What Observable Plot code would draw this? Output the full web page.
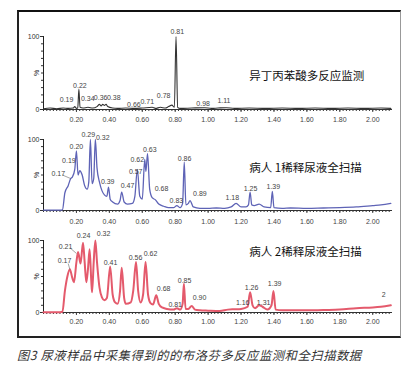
<!DOCTYPE html>
<html><head><meta charset="utf-8">
<script src="https://cdn.jsdelivr.net/npm/d3@7"></script>
<script src="https://cdn.jsdelivr.net/npm/@observablehq/plot@0.6"></script>
<style>
body{margin:0;background:#fff;width:418px;height:374px;position:relative;overflow:hidden;font-family:"Liberation Sans",Arial,sans-serif}
#frame{position:absolute;left:17px;top:10px;width:381px;height:324px;border-top:2px solid #111;border-left:2px solid #222;border-bottom:2px solid #222;border-right:1px solid #999}
.panel{position:absolute;left:0}
#caption{position:absolute;left:17px;top:346px;font:italic 12.3px "Noto Sans CJK SC";letter-spacing:0.55px;color:#333;white-space:nowrap}
</style></head><body>
<div id="frame"></div>
<div id="p1" class="panel" style="top:12px"></div>
<div id="p2" class="panel" style="top:125px"></div>
<div id="p3" class="panel" style="top:225px"></div>
<div id="caption">图3 尿液样品中采集得到的的布洛芬多反应监测和全扫描数据</div>
<script>
// ---- data ----
const xTicks = [0.20, 0.40, 0.60, 0.80, 1.00, 1.20, 1.40, 1.60, 1.80, 2.00];
const yTicks = [0, 100];
const yUnit = "%";
const titles = ["异丁丙苯酸多反应监测", "病人 1稀释尿液全扫描", "病人 2稀释尿液全扫描"];

// retention time (min), relative abundance (%)
const mrmTrace = [[0,1],[0.04,2],[0.08,1],[0.12,2],[0.15,1.5],[0.18,2],[0.19,4],[0.20,1.5],[0.208,2],[0.215,28],[0.222,3],[0.24,2],[0.27,3],[0.30,2],[0.325,4],[0.34,7],[0.35,5],[0.36,7],[0.37,5.5],[0.38,7],[0.39,4],[0.42,2],[0.45,1.5],[0.50,2],[0.55,1.5],[0.60,2],[0.66,3],[0.68,1.5],[0.71,3],[0.74,2],[0.76,4],[0.78,6],[0.795,3],[0.805,100],[0.815,3],[0.83,1.5],[0.90,2],[0.98,2.5],[1.02,1.5],[1.06,2],[1.11,2.5],[1.16,1.5],[1.25,2],[1.35,1.5],[1.45,2],[1.55,1.5],[1.65,2],[1.75,1.5],[1.85,2],[1.95,1.5],[2.05,2],[2.11,1.5]];
const scan1Trace = [[0,0.5],[0.10,0.5],[0.115,1],[0.13,25],[0.15,35],[0.165,45],[0.175,47],[0.19,58],[0.20,84],[0.21,50],[0.22,56],[0.235,50],[0.25,35],[0.265,30],[0.275,40],[0.285,100],[0.295,38],[0.305,45],[0.315,100],[0.325,60],[0.34,40],[0.355,28],[0.37,22],[0.385,20],[0.395,33],[0.405,16],[0.42,12],[0.45,9],[0.465,14],[0.475,26],[0.49,12],[0.51,9],[0.54,10],[0.555,20],[0.57,58],[0.585,20],[0.60,16],[0.615,72],[0.622,55],[0.632,80],[0.645,30],[0.66,18],[0.68,15],[0.70,9],[0.73,6],[0.76,4],[0.79,4],[0.81,7],[0.83,4],[0.845,10],[0.855,68],[0.865,8],[0.88,10],[0.89,14],[0.91,5],[0.95,3],[1.00,3],[1.05,3.5],[1.10,3],[1.14,5],[1.17,10],[1.20,5],[1.23,5],[1.245,8],[1.255,26],[1.265,8],[1.28,7],[1.31,9],[1.34,5],[1.38,4],[1.39,27],[1.40,4],[1.45,3],[1.50,3.5],[1.60,3],[1.70,3.5],[1.80,4],[1.90,5],[2.00,7],[2.05,8],[2.11,10]];
const scan2Trace = [[0,0.5],[0.10,0.5],[0.115,1],[0.13,30],[0.145,50],[0.16,60],[0.175,48],[0.185,42],[0.20,70],[0.21,84],[0.225,68],[0.24,97],[0.25,70],[0.26,42],[0.27,60],[0.28,88],[0.29,45],[0.295,28],[0.305,70],[0.315,100],[0.325,70],[0.34,35],[0.355,21],[0.37,17],[0.385,20],[0.405,64],[0.42,25],[0.435,14],[0.45,12],[0.465,30],[0.475,62],[0.49,20],[0.50,12],[0.53,14],[0.545,30],[0.562,70],[0.575,30],[0.59,14],[0.605,25],[0.62,70],[0.635,25],[0.65,13],[0.665,11],[0.685,24],[0.70,12],[0.72,7],[0.75,5],[0.79,4],[0.81,6],[0.83,4],[0.845,12],[0.853,40],[0.863,5],[0.88,5],[0.90,9],[0.92,4],[0.95,3],[1.00,2.5],[1.07,2],[1.12,4],[1.16,4.5],[1.20,5],[1.24,8],[1.255,28],[1.27,10],[1.285,6],[1.31,10],[1.33,8],[1.36,4],[1.385,10],[1.397,30],[1.41,4],[1.45,3],[1.50,3],[1.60,3],[1.70,3.5],[1.80,4],[1.90,6],[2.00,7],[2.05,8],[2.11,10]];

// peak labels: text, label time, label height
const mrmLabels = [["0.19",0.14,13],["0.22",0.221,33],["0.34",0.269,15],["0.36",0.347,16],["0.38",0.427,16],["0.66",0.549,7],["0.71",0.63,11],["0.78",0.73,19],["0.81",0.813,106],["0.98",0.97,8],["1.11",1.096,12]];
const scan1Labels = [["0.17",0.09,52],["0.19",0.154,70],["0.20",0.2,90],["0.29",0.272,107],["0.32",0.36,103],["0.39",0.39,40],["0.47",0.51,35],["0.57",0.56,54],["0.62",0.57,71],["0.63",0.646,85],["0.68",0.717,31],["0.83",0.807,14],["0.86",0.857,73],["0.89",0.95,24],["1.18",1.147,18],["1.25",1.258,31],["1.39",1.396,34]];
const scan2Labels = [["0.17",0.128,72],["0.21",0.134,92],["0.24",0.243,106],["0.32",0.365,110],["0.41",0.407,69],["0.56",0.559,76],["0.62",0.65,81],["0.68",0.73,33],["0.81",0.80,11],["0.85",0.857,44],["0.90",0.948,21],["1.16",1.21,14],["1.26",1.264,35],["1.31",1.337,14],["1.39",1.404,40],["2",2.067,24]];
// leader lines from label to peak: t1, v1, t2, v2
const scan1Leaders = [[0.115,50,0.165,45]];
const scan2Leaders = [[0.15,68,0.16,60],[0.16,90,0.20,82]];

// ---- drawing ----
const xMinor = d3.range(0, 2.12, 0.02);
const yMinor = d3.range(0, 101, 10);
const toPts = a => a.map(([t, v]) => ({t, v}));
const toLabels = a => a.map(([s, t, v]) => ({s, t, v}));
const toLinks = a => a.map(([t1, v1, t2, v2]) => ({t1, v1, t2, v2}));

function panel(id, trace, labels, leaders, title, color, sw, height, mt, mb, titleV, pad) {
  const chart = Plot.plot({
    width: 418, height, marginLeft: 43, marginRight: 26, marginTop: mt, marginBottom: mb,
    x: {domain: [0, 2.12]}, y: {domain: [0, 100]},
    style: {background: "transparent", overflow: "visible", fontFamily: "'Liberation Sans', Arial, sans-serif"},
    marks: [
      Plot.axisX({ticks: xMinor, tickSize: 2, text: null, color: "#333", label: null}),
      Plot.axisX({ticks: xTicks, tickSize: 3, tickPadding: pad, tickFormat: d3.format(".2f"), fontSize: 7, color: "#444", label: null}),
      Plot.axisY({ticks: yMinor, tickSize: 2, text: null, color: "#333", label: null}),
      Plot.axisY({ticks: yTicks, tickSize: 3, tickPadding: 1, fontSize: 7, color: "#333", label: null}),
      Plot.ruleX([0], {y1: 0, y2: 100, stroke: "#222"}),
      Plot.ruleY([0], {stroke: "#333"}),
      Plot.text([yUnit], {x: 0, y: 50, text: d => d, dx: -7, rotate: -90, fontSize: 7, fill: "#222"}),
      Plot.line(toPts(trace), {x: "t", y: "v", stroke: color, strokeWidth: sw, curve: "monotone-x"}),
      Plot.link(toLinks(leaders), {x1: "t1", y1: "v1", x2: "t2", y2: "v2", stroke: "#666", strokeWidth: 0.6}),
      Plot.text(toLabels(labels), {x: "t", y: "v", text: "s", fontSize: 7, fill: "#444"}),
      Plot.text([title], {x: 1.25, y: titleV, text: d => d, textAnchor: "start", fontSize: 11.5, fontFamily: "'Noto Sans CJK SC'", fill: "#111"})
    ]
  });
  document.getElementById(id).appendChild(chart);
}

panel("p1", mrmTrace, mrmLabels, [], titles[0], "#333", 1.1, 113, 24, 16, 45, 5);
panel("p2", scan1Trace, scan1Labels, scan1Leaders, titles[1], "#5e63b6", 1.3, 100, 14, 15, 60, 6);
panel("p3", scan2Trace, scan2Labels, scan2Leaders, titles[2], "#e45a6c", 2, 111, 15, 24, 83, 4);
</script>
</body></html>
